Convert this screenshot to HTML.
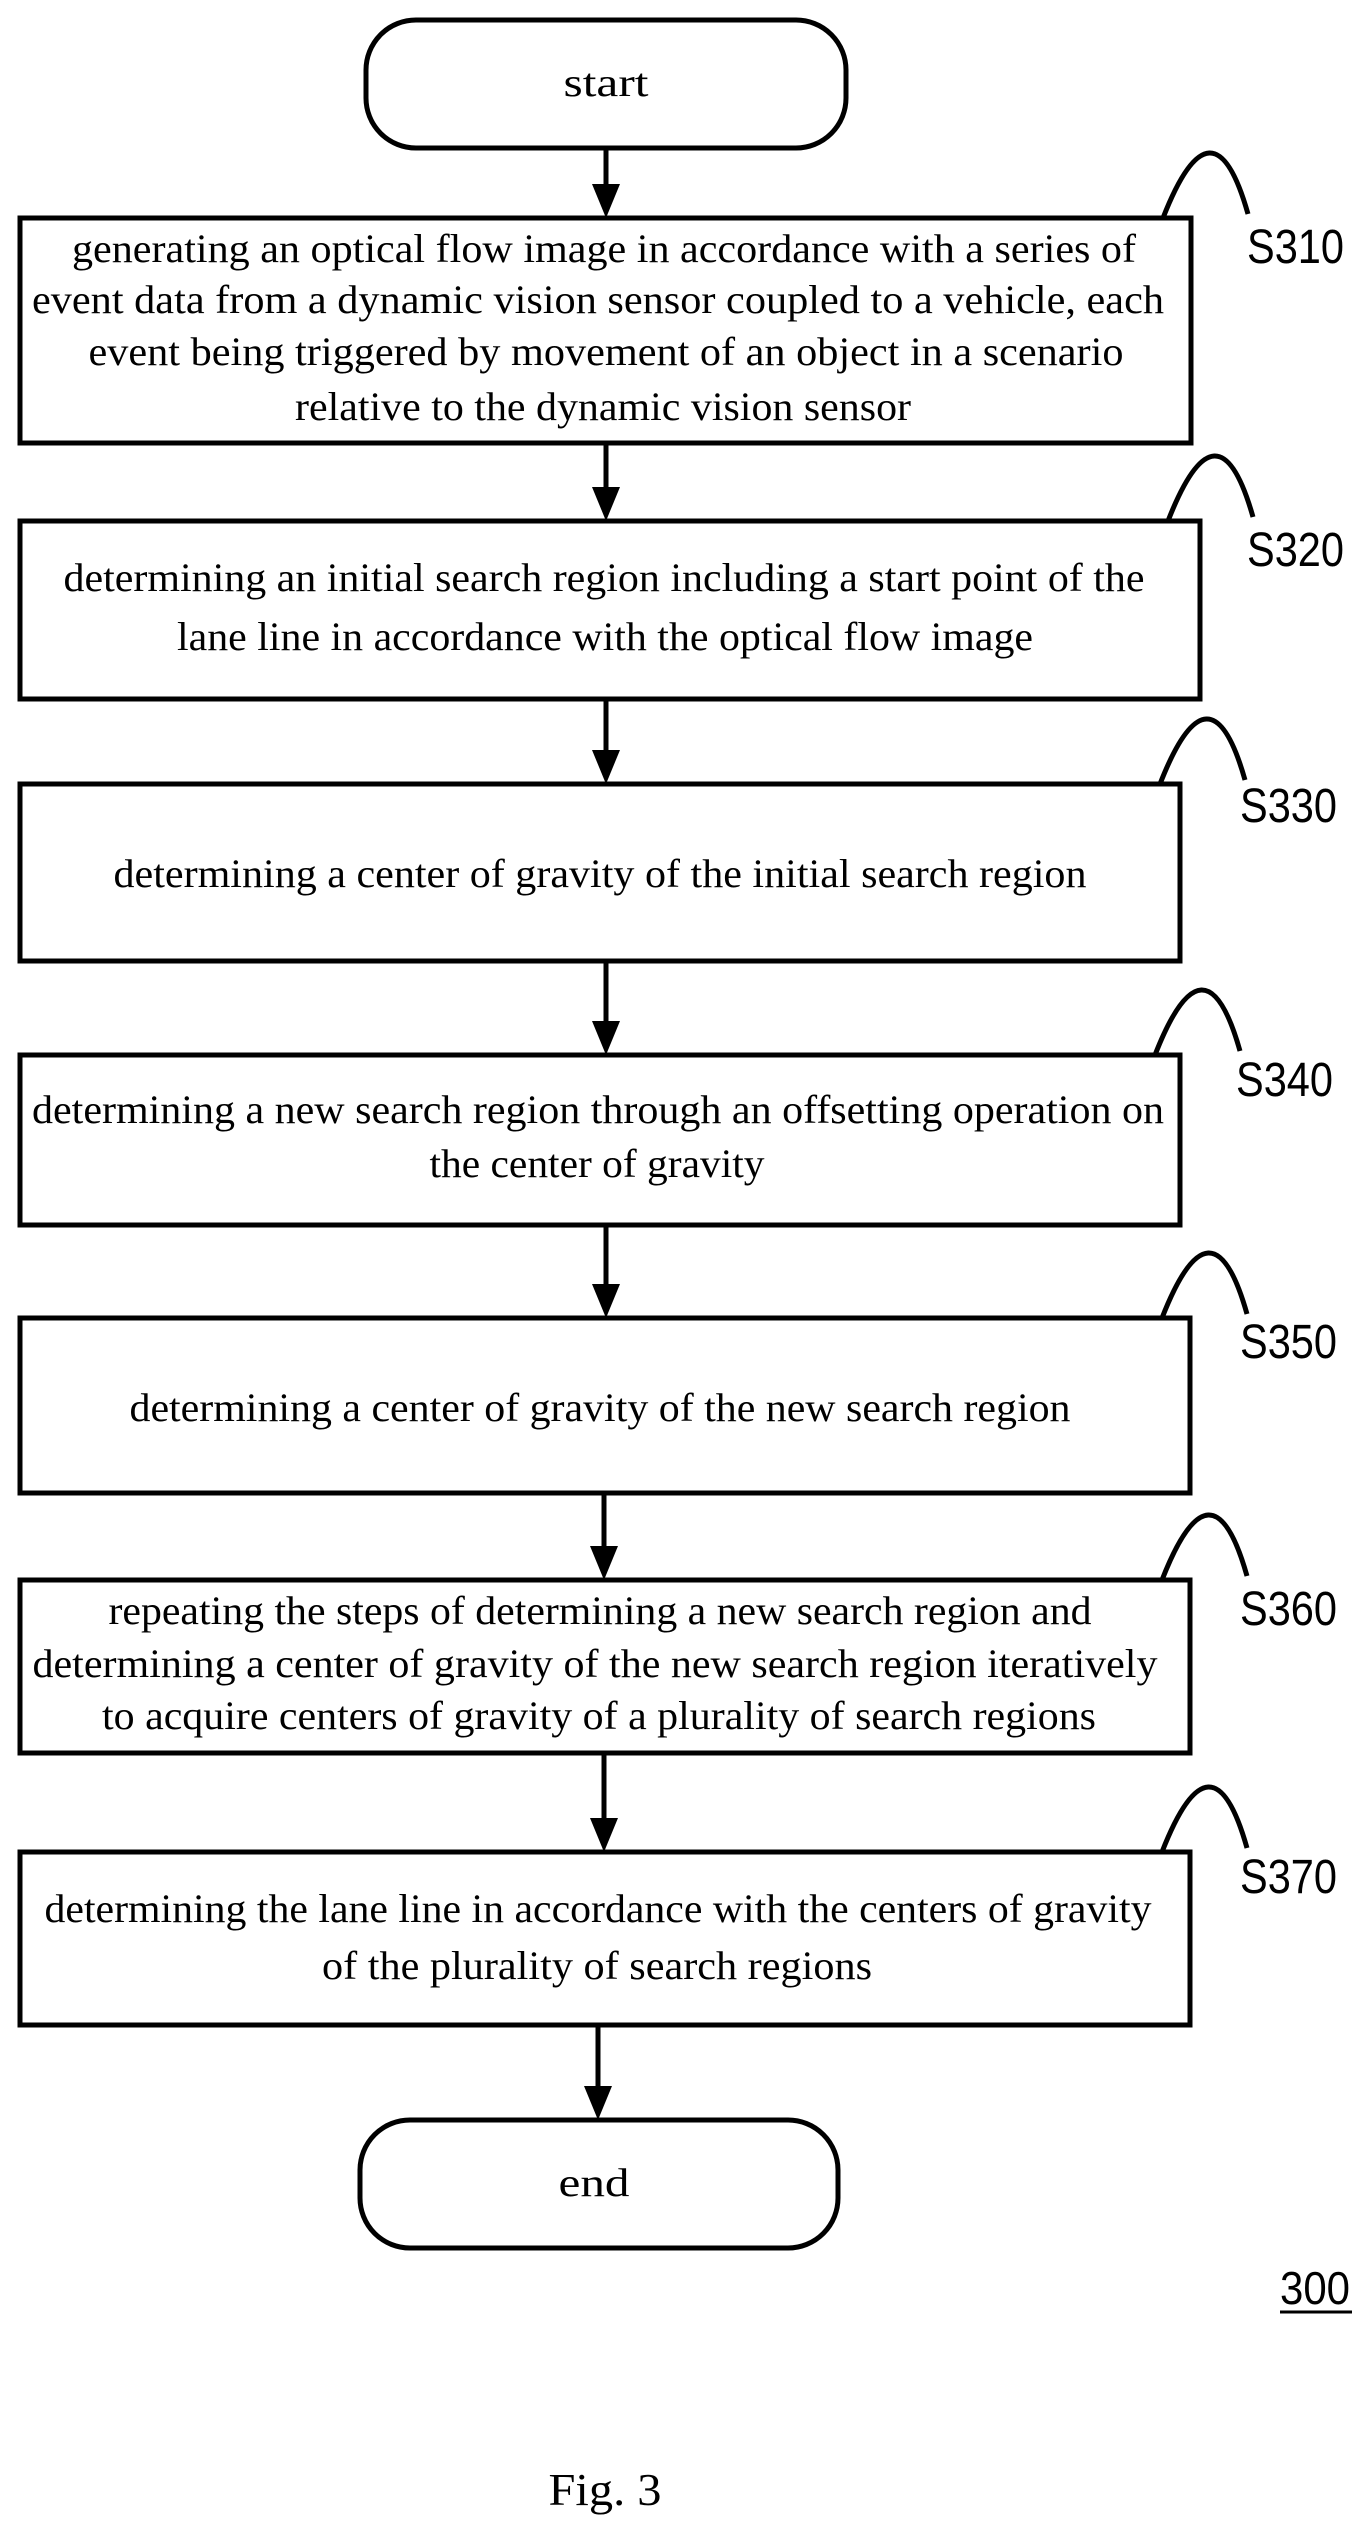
<!DOCTYPE html>
<html><head><meta charset="utf-8"><style>
html,body{margin:0;padding:0;background:#fff;}
svg{display:block;}
.t{font-family:"Liberation Serif",serif;font-size:40px;fill:#000;text-anchor:middle;}
.l{font-family:"Liberation Sans",sans-serif;font-size:48px;fill:#000;}
</style></head><body>
<svg width="1370" height="2539" viewBox="0 0 1370 2539" xmlns="http://www.w3.org/2000/svg">
<g fill="none" stroke="#000" stroke-width="5">
<rect x="366" y="20" width="480" height="128" rx="50"/>
<rect x="20" y="218" width="1171" height="225"/>
<rect x="20" y="521" width="1180" height="178"/>
<rect x="20" y="784" width="1160" height="177"/>
<rect x="20" y="1055" width="1160" height="170"/>
<rect x="20" y="1318" width="1170" height="175"/>
<rect x="20" y="1580" width="1170" height="173"/>
<rect x="20" y="1852" width="1170" height="173"/>
<rect x="360" y="2120" width="478" height="128" rx="50"/>
</g>
<g stroke="#000" stroke-width="5" fill="none">
<line x1="606" y1="148" x2="606" y2="190"/>
<line x1="606" y1="443" x2="606" y2="493"/>
<line x1="606" y1="699" x2="606" y2="756"/>
<line x1="606" y1="961" x2="606" y2="1027"/>
<line x1="606" y1="1225" x2="606" y2="1290"/>
<line x1="604" y1="1493" x2="604" y2="1552"/>
<line x1="604" y1="1753" x2="604" y2="1824"/>
<line x1="598" y1="2025" x2="598" y2="2092"/>
</g>
<g fill="#000">
<polygon points="592,184 620,184 606,218"/>
<polygon points="592,487 620,487 606,521"/>
<polygon points="592,750 620,750 606,784"/>
<polygon points="592,1021 620,1021 606,1055"/>
<polygon points="592,1284 620,1284 606,1318"/>
<polygon points="590,1546 618,1546 604,1580"/>
<polygon points="590,1818 618,1818 604,1852"/>
<polygon points="584,2086 612,2086 598,2120"/>
</g>
<g fill="none" stroke="#000" stroke-width="5">
<path d="M1163,218 Q1213,90 1248,214"/>
<path d="M1168,521 Q1218,393 1253,517"/>
<path d="M1160,784 Q1210,656 1245,780"/>
<path d="M1155,1055 Q1205,927 1240,1051"/>
<path d="M1162,1318 Q1212,1190 1247,1314"/>
<path d="M1162,1580 Q1212,1452 1247,1576"/>
<path d="M1162,1852 Q1212,1724 1247,1848"/>
</g>
<g class="l">
<text x="1247" y="263" textLength="97" lengthAdjust="spacingAndGlyphs">S310</text>
<text x="1247" y="566" textLength="97" lengthAdjust="spacingAndGlyphs">S320</text>
<text x="1240" y="822" textLength="97" lengthAdjust="spacingAndGlyphs">S330</text>
<text x="1236" y="1096" textLength="97" lengthAdjust="spacingAndGlyphs">S340</text>
<text x="1240" y="1358" textLength="97" lengthAdjust="spacingAndGlyphs">S350</text>
<text x="1240" y="1625" textLength="97" lengthAdjust="spacingAndGlyphs">S360</text>
<text x="1240" y="1893" textLength="97" lengthAdjust="spacingAndGlyphs">S370</text>
<text x="1280" y="2304" textLength="70" lengthAdjust="spacingAndGlyphs" font-size="46">300</text>
</g>
<line x1="1280" y1="2312" x2="1352" y2="2312" stroke="#000" stroke-width="3"/>
<g class="t">
<text x="606" y="96" textLength="85" lengthAdjust="spacingAndGlyphs">start</text>
<text x="604" y="262" textLength="1064" lengthAdjust="spacingAndGlyphs">generating an optical flow image in accordance with a series of</text>
<text x="598" y="313" textLength="1132" lengthAdjust="spacingAndGlyphs">event data from a dynamic vision sensor coupled to a vehicle, each</text>
<text x="606" y="365" textLength="1035" lengthAdjust="spacingAndGlyphs">event being triggered by movement of an object in a scenario</text>
<text x="603" y="420" textLength="616" lengthAdjust="spacingAndGlyphs">relative to the dynamic vision sensor</text>
<text x="604" y="591" textLength="1081" lengthAdjust="spacingAndGlyphs">determining an initial search region including a start point of the</text>
<text x="605" y="650" textLength="856" lengthAdjust="spacingAndGlyphs">lane line in accordance with the optical flow image</text>
<text x="600" y="887" textLength="973" lengthAdjust="spacingAndGlyphs">determining a center of gravity of the initial search region</text>
<text x="598" y="1123" textLength="1132" lengthAdjust="spacingAndGlyphs">determining a new search region through an offsetting operation on</text>
<text x="597" y="1177" textLength="335" lengthAdjust="spacingAndGlyphs">the center of gravity</text>
<text x="600" y="1421" textLength="941" lengthAdjust="spacingAndGlyphs">determining a center of gravity of the new search region</text>
<text x="600" y="1624" textLength="983" lengthAdjust="spacingAndGlyphs">repeating the steps of determining a new search region and</text>
<text x="595" y="1677" textLength="1125" lengthAdjust="spacingAndGlyphs">determining a center of gravity of the new search region iteratively</text>
<text x="599" y="1729" textLength="994" lengthAdjust="spacingAndGlyphs">to acquire centers of gravity of a plurality of search regions</text>
<text x="598" y="1922" textLength="1107" lengthAdjust="spacingAndGlyphs">determining the lane line in accordance with the centers of gravity</text>
<text x="597" y="1979" textLength="550" lengthAdjust="spacingAndGlyphs">of the plurality of search regions</text>
<text x="594" y="2196" textLength="71" lengthAdjust="spacingAndGlyphs">end</text>
<text x="605" y="2505" textLength="113" lengthAdjust="spacingAndGlyphs" font-size="46">Fig. 3</text>
</g>
</svg>
</body></html>
